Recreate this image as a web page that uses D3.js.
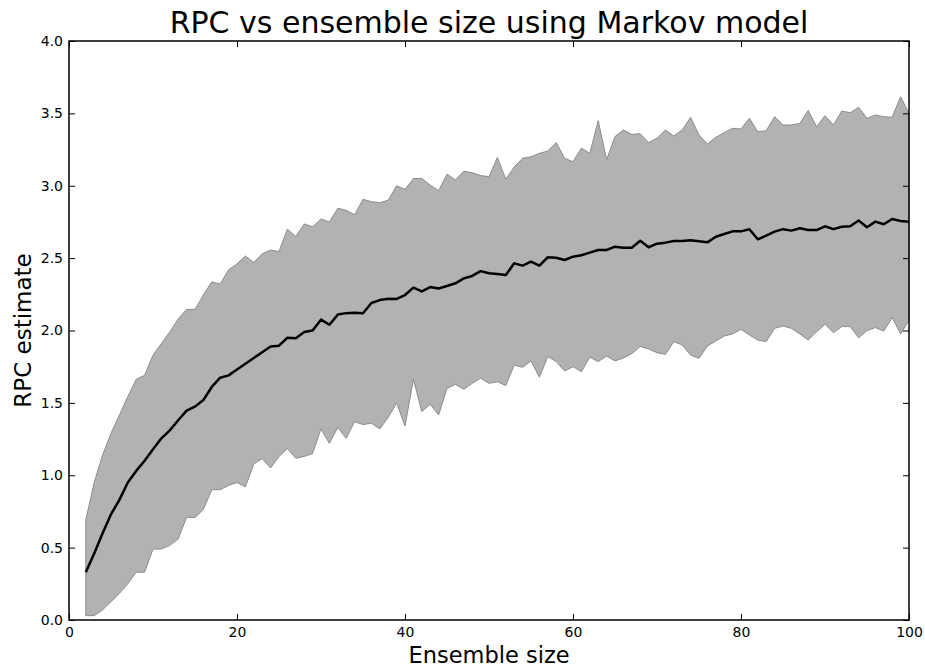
<!DOCTYPE html>
<html>
<head>
<meta charset="utf-8">
<script src="https://cdn.jsdelivr.net/npm/d3@7"></script>
<style>
  body { margin: 0; background: #fff; }
  svg { display: block; font-family: "DejaVu Sans", sans-serif; }
</style>
</head>
<body>
<div id="chart"></div>
<script>
// ensemble sizes 2..100
var sizes = d3.range(2, 101);

// mean RPC estimate
var meanVals = [0.33, 0.46, 0.60, 0.73, 0.83, 0.95, 1.03, 1.10, 1.18, 1.255,
    1.31, 1.38, 1.446, 1.474, 1.52, 1.61, 1.674, 1.69, 1.73, 1.77,
    1.81, 1.85, 1.89, 1.895, 1.95, 1.946, 1.99, 2.00, 2.075, 2.04,
    2.11, 2.12, 2.123, 2.119, 2.19, 2.21, 2.22, 2.218, 2.245, 2.296,
    2.27, 2.30, 2.29, 2.307, 2.326, 2.36, 2.377, 2.41, 2.395, 2.39,
    2.383, 2.464, 2.448, 2.476, 2.448, 2.506, 2.503, 2.487, 2.51, 2.52,
    2.538, 2.556, 2.556, 2.579, 2.572, 2.572, 2.62, 2.575, 2.60, 2.607,
    2.618, 2.618, 2.623, 2.616, 2.609, 2.648, 2.667, 2.685, 2.685, 2.699,
    2.63, 2.655, 2.683, 2.70, 2.69, 2.706, 2.694, 2.694, 2.72, 2.70,
    2.717, 2.72, 2.76, 2.713, 2.752, 2.734, 2.77, 2.756, 2.752];

// upper edge of the band
var upperVals = [0.69, 0.95, 1.14, 1.29, 1.416, 1.543, 1.663, 1.69, 1.83, 1.91,
    1.99, 2.08, 2.146, 2.146, 2.245, 2.337, 2.32, 2.42, 2.46, 2.515,
    2.47, 2.53, 2.556, 2.545, 2.70, 2.65, 2.736, 2.717, 2.77, 2.75,
    2.845, 2.83, 2.80, 2.906, 2.89, 2.883, 2.90, 3.00, 2.975, 3.05,
    3.05, 3.005, 2.966, 3.08, 3.04, 3.10, 3.09, 3.07, 3.063, 3.196,
    3.045, 3.13, 3.19, 3.20, 3.224, 3.24, 3.298, 3.19, 3.166, 3.26,
    3.224, 3.45, 3.18, 3.34, 3.385, 3.355, 3.36, 3.298, 3.328, 3.385,
    3.344, 3.385, 3.473, 3.35, 3.288, 3.335, 3.367, 3.397, 3.392, 3.466,
    3.373, 3.38, 3.477, 3.42, 3.42, 3.43, 3.52, 3.408, 3.484, 3.42,
    3.516, 3.505, 3.542, 3.466, 3.489, 3.477, 3.473, 3.615, 3.50];

// lower edge of the band
var lowerVals = [0.03, 0.03, 0.07, 0.126, 0.184, 0.25, 0.33, 0.33, 0.49, 0.49,
    0.516, 0.56, 0.71, 0.707, 0.765, 0.90, 0.90, 0.93, 0.95, 0.92,
    1.078, 1.115, 1.05, 1.13, 1.185, 1.117, 1.13, 1.15, 1.32, 1.22,
    1.33, 1.255, 1.37, 1.35, 1.36, 1.32, 1.40, 1.50, 1.34, 1.663,
    1.44, 1.49, 1.416, 1.60, 1.628, 1.594, 1.635, 1.67, 1.635, 1.646,
    1.62, 1.76, 1.746, 1.79, 1.677, 1.82, 1.785, 1.72, 1.75, 1.715,
    1.815, 1.785, 1.824, 1.79, 1.81, 1.84, 1.89, 1.872, 1.847, 1.835,
    1.923, 1.90, 1.83, 1.808, 1.893, 1.927, 1.962, 1.976, 2.008, 1.969,
    1.934, 1.923, 2.015, 2.031, 2.015, 1.976, 1.934, 1.992, 2.043, 1.985,
    2.027, 2.027, 1.95, 2.00, 2.02, 1.996, 2.09, 1.976, 2.07];

var xTicks = [0, 20, 40, 60, 80, 100];
var yTicks = [0, 0.5, 1.0, 1.5, 2.0, 2.5, 3.0, 3.5, 4.0];

var margin = {top: 41, right: 16, bottom: 48, left: 69},
    width = 925 - margin.left - margin.right,
    height = 668 - margin.top - margin.bottom;

var svg = d3.select("#chart").append("svg")
    .attr("width", 925)
    .attr("height", 668);

var g = svg.append("g")
    .attr("transform", "translate(" + margin.left + "," + margin.top + ")");

var x = d3.scaleLinear().domain([0, 100]).range([0, width]);
var y = d3.scaleLinear().domain([0, 4]).range([height, 0]);

var rows = sizes.map(function (s, i) {
    return {s: s, mean: meanVals[i], lo: lowerVals[i], hi: upperVals[i]};
});

// shaded band
var area = d3.area()
    .x(function (d) { return x(d.s); })
    .y0(function (d) { return y(d.lo); })
    .y1(function (d) { return y(d.hi); });

g.append("path")
    .datum(rows)
    .attr("d", area)
    .attr("fill", "#b2b2b2")
    .attr("stroke", "#8c8c8c")
    .attr("stroke-width", 1);

// mean line
var line = d3.line()
    .x(function (d) { return x(d.s); })
    .y(function (d) { return y(d.mean); });

g.append("path")
    .datum(rows)
    .attr("d", line)
    .attr("fill", "none")
    .attr("stroke", "#000")
    .attr("stroke-width", 2.5)
    .attr("stroke-linejoin", "round");

// axes: ticks point inwards on all four sides
function styleAxis(sel) {
    sel.attr("font-size", 14).attr("font-family", "DejaVu Sans");
    sel.select(".domain").remove();
    sel.selectAll(".tick line").attr("stroke", "#000").attr("stroke-width", 1);
    sel.selectAll(".tick text").attr("fill", "#000");
}

g.append("g")
    .attr("transform", "translate(0," + height + ")")
    .call(d3.axisBottom(x).tickValues(xTicks).tickFormat(d3.format("d"))
        .tickSizeInner(-6).tickSizeOuter(0).tickPadding(7))
    .call(styleAxis);

g.append("g")
    .call(d3.axisTop(x).tickValues(xTicks).tickFormat("")
        .tickSizeInner(-6).tickSizeOuter(0))
    .call(styleAxis);

g.append("g")
    .call(d3.axisLeft(y).tickValues(yTicks).tickFormat(d3.format(".1f"))
        .tickSizeInner(-6).tickSizeOuter(0).tickPadding(6))
    .call(styleAxis);

g.append("g")
    .attr("transform", "translate(" + width + ",0)")
    .call(d3.axisRight(y).tickValues(yTicks).tickFormat("")
        .tickSizeInner(-6).tickSizeOuter(0))
    .call(styleAxis);

// frame
g.append("rect")
    .attr("width", width)
    .attr("height", height)
    .attr("fill", "none")
    .attr("stroke", "#000")
    .attr("stroke-width", 1.5);

// titles
svg.append("text")
    .attr("x", margin.left + width / 2)
    .attr("y", 33)
    .attr("text-anchor", "middle")
    .style("font-size", "30px")
    .text("RPC vs ensemble size using Markov model");

svg.append("text")
    .attr("x", margin.left + width / 2)
    .attr("y", 663)
    .attr("text-anchor", "middle")
    .style("font-size", "22.5px")
    .text("Ensemble size");

svg.append("text")
    .attr("transform", "translate(31," + (margin.top + height / 2) + ") rotate(-90)")
    .attr("text-anchor", "middle")
    .style("font-size", "23px")
    .text("RPC estimate");
</script>
</body>
</html>
